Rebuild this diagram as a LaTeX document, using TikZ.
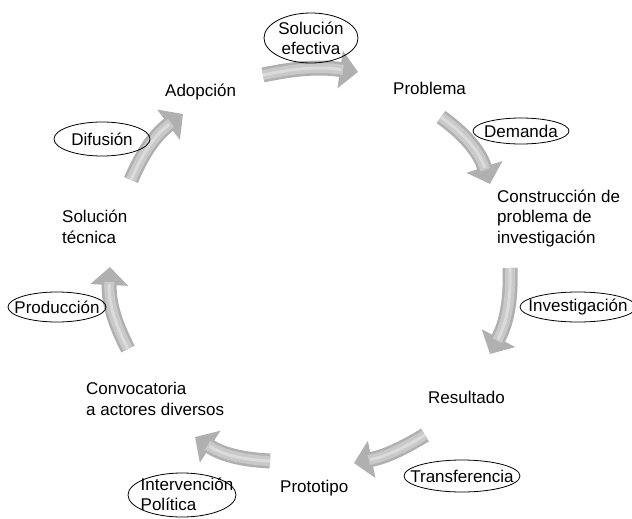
\documentclass[tikz,border=0pt]{standalone}
\usepackage{fontspec}
\setmainfont{Liberation Sans}
\usetikzlibrary{arrows.meta,positioning,shapes.geometric}

\begin{document}
\begin{tikzpicture}[x=1pt, y=-1pt,
  stage/.style={anchor=base west, inner sep=0pt, align=left, font=\fontsize{17}{20.5}\selectfont},
  lbl/.style={inner sep=0pt, align=center, font=\fontsize{17}{20}\selectfont},
  ring/.style={draw=black, line width=0.8pt},
  cyc/.style={line width=15pt, draw=gray!62, -{Triangle[length=18pt, width=37pt]},
    postaction={draw=gray!42, line width=10pt, shorten >=15pt, -},
    postaction={draw=gray!28, line width=3pt, shorten >=17pt, -}}]
\useasboundingbox (0,0) rectangle (632,519);
% stages of the cycle
\node[stage] (adop) at (165,96) {Adopción};
\node[stage] (prob) at (393,95) {Problema};
\node[stage] (cons) at (497,243) {Construcción de\\problema de\\investigación};
\node[stage] (resu) at (428,403) {Resultado};
\node[stage] (prot) at (280,492) {Prototipo};
\node[stage] (conv) at (86,415) {Convocatoria\\a actores diversos};
\node[stage] (solt) at (62,243) {Solución\\técnica};
% arrow ends
\coordinate (t1) at (263,75);  \coordinate (h1) at (358,72);
\coordinate (t2) at (441,117); \coordinate (h2) at (490,184);
\coordinate (t3) at (510,268); \coordinate (h3) at (490,354);
\coordinate (t4) at (425,435); \coordinate (h4) at (354,463);
\coordinate (t5) at (270,461); \coordinate (h5) at (195,437);
\coordinate (t6) at (128,349); \coordinate (h6) at (110,267);
\coordinate (t7) at (131,180); \coordinate (h7) at (183,114);
\draw[cyc] (t1) to[bend left=10] (h1);
\draw[cyc] (t2) to[bend left=18] (h2);
\draw[cyc] (t3) to[bend left=15] (h3);
\draw[cyc] (t4) to[bend left=10] (h4);
\draw[cyc] (t5) to[bend left=15] (h5);
\draw[cyc] (t6) to[bend left=15] (h6);
\draw[cyc] (t7) to[bend left=15] (h7);
% labels on the arrows
\node[lbl] (sole) at (311,38) {Solución\\efectiva};
\draw[ring] (sole.center) ellipse [x radius=47pt, y radius=25pt];
\node[lbl] (dema) at (521,131) {Demanda};
\draw[ring] (dema.center) ellipse [x radius=48pt, y radius=13pt];
\node[lbl] (inve) at (578,307) {Investigación};
\draw[ring] (inve.center) ellipse [x radius=58pt, y radius=15pt];
\node[lbl] (tran) at (462,476) {Transferencia};
\draw[ring] (tran.center) ellipse [x radius=58pt, y radius=16pt];
\node[lbl, align=left] (intp) at (187,494) {Intervención\\Política};
\draw[ring] (182,495) ellipse [x radius=54pt, y radius=22pt];
\node[lbl] (difu) at (102,139) {Difusión};
\draw[ring] (difu.center) ellipse [x radius=48pt, y radius=17pt];
\node[lbl] (prod) at (57,307) {Producción};
\draw[ring] (prod.center) ellipse [x radius=49pt, y radius=15pt];
\end{tikzpicture}
\end{document}
